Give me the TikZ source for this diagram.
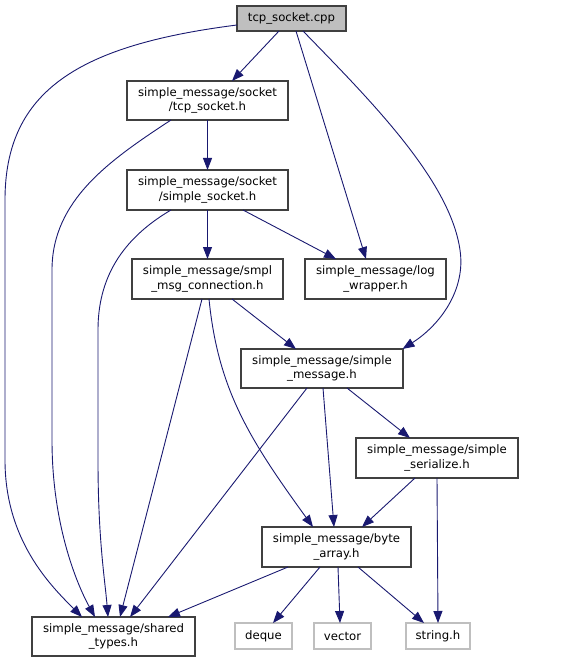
\documentclass[tikz,border=0pt]{standalone}
\usepackage{fontspec}
\setmainfont{DejaVu Sans}
\usetikzlibrary{arrows.meta}
\definecolor{edgeblue}{HTML}{191970}
\definecolor{boxline}{HTML}{404040}
\definecolor{lightline}{HTML}{BFBFBF}
\definecolor{cppfill}{HTML}{BFBFBF}
\tikzset{
  box/.style={draw=boxline, line width=1.1pt, fill=white, inner sep=0pt, outer sep=0pt,
    align=center, font=\fontsize{11.7}{14.5}\selectfont},
  mainbox/.style={box, fill=cppfill},
  extbox/.style={box, draw=lightline, minimum width=57pt, minimum height=26pt},
  edge/.style={draw=edgeblue, line width=0.9pt,
    -{Triangle[length=12pt,width=9pt,fill=edgeblue]}},
}
\begin{document}
\begin{tikzpicture}[x=1pt,y=-1pt]
\useasboundingbox (0,0) rectangle (571,663);
% nodes
\node[mainbox, minimum width=109pt, minimum height=25pt] (cpp) at (291.5,18.5) {tcp\_socket.cpp};
\node[box, minimum width=161pt, minimum height=39pt] (tcph) at (207.5,100.5) {simple\_message/socket\\/tcp\_socket.h};
\node[box, minimum width=161pt, minimum height=40pt] (sock) at (207.5,190) {simple\_message/socket\\/simple\_socket.h};
\node[box, minimum width=151pt, minimum height=40pt] (smpl) at (207.5,279) {simple\_message/smpl\\\_msg\_connection.h};
\node[box, minimum width=141pt, minimum height=40pt] (log) at (375.5,279) {simple\_message/log\\\_wrapper.h};
\node[box, minimum width=162pt, minimum height=39pt] (smsg) at (322,368.5) {simple\_message/simple\\\_message.h};
\node[box, minimum width=162pt, minimum height=40pt] (ser) at (437,458) {simple\_message/simple\\\_serialize.h};
\node[box, minimum width=149pt, minimum height=40pt] (byte) at (336.5,547) {simple\_message/byte\\\_array.h};
\node[box, minimum width=163pt, minimum height=39pt] (shared) at (113.5,636.5) {simple\_message/shared\\\_types.h};
\node[extbox] (deque) at (263.5,636) {deque};
\node[extbox] (vector) at (342.5,636) {vector};
\node[extbox, minimum width=64pt] (string) at (438,636) {string.h};
% edges
\draw[edge] ([xshift=-12.5pt]cpp.south) -- ([xshift=24.5pt]tcph.north);
\draw[edge] ([yshift=-6.5pt]cpp.west) .. controls (80,45) and (5,90) .. (5,200) -- (5,460)
  .. controls (5,540) and (50,585) .. ([xshift=-31.5pt]shared.north);
\draw[edge] ([xshift=4.5pt]cpp.south) -- ([xshift=-9.5pt]log.north);
\draw[edge] ([xshift=11.5pt]cpp.south) .. controls (370,100) and (450,180) .. (460,250)
  .. controls (466,290) and (440,325) .. ([xshift=-0.5pt]smsg.north east);
\draw[edge] (tcph.south) -- (sock.north);
\draw[edge] ([xshift=-36.5pt]tcph.south) .. controls (110,160) and (52,200) .. (52,270) -- (52,440)
  .. controls (52,530) and (80,590) .. ([xshift=-18.5pt]shared.north);
\draw[edge] (sock.south) -- (smpl.north);
\draw[edge] ([xshift=35.5pt]sock.south) -- ([xshift=-39.5pt]log.north);
\draw[edge] ([xshift=-36.5pt]sock.south) .. controls (120,240) and (98,280) .. (98,330) -- (98,460)
  .. controls (98,540) and (105,580) .. ([xshift=-5.5pt]shared.north);
\draw[edge] ([xshift=24.5pt]smpl.south) -- ([xshift=-26pt]smsg.north);
\draw[edge] ([xshift=-5.5pt]smpl.south) -- ([xshift=6.5pt]shared.north);
\draw[edge] ([xshift=1.5pt]smpl.south) .. controls (218,390) and (250,440) .. ([xshift=-23.5pt]byte.north);
\draw[edge] ([xshift=-15pt]smsg.south) -- ([xshift=16.5pt]shared.north);
\draw[edge] ([xshift=1pt]smsg.south) -- ([xshift=-2.5pt]byte.north);
\draw[edge] ([xshift=25pt]smsg.south) -- ([xshift=-27pt]ser.north);
\draw[edge] ([xshift=-22pt]ser.south) -- ([xshift=25.5pt]byte.north);
\draw[edge] (ser.south) -- (string.north);
\draw[edge] ([xshift=-48.5pt]byte.south) -- ([xshift=54.5pt]shared.north);
\draw[edge] ([xshift=-16.5pt]byte.south) -- ([xshift=9.5pt]deque.north);
\draw[edge] ([xshift=1.5pt]byte.south) -- ([xshift=-2.5pt]vector.north);
\draw[edge] ([xshift=21.5pt]byte.south) -- ([xshift=-14pt]string.north);
\end{tikzpicture}
\end{document}
